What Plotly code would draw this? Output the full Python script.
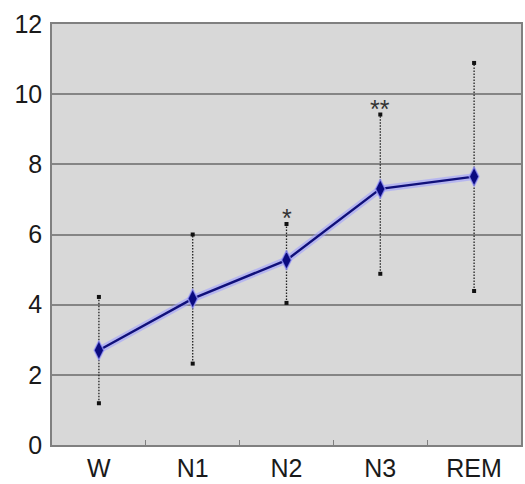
import plotly.graph_objects as go

categories = ["W", "N1", "N2", "N3", "REM"]
means = [2.70, 4.17, 5.27, 7.30, 7.65]
upper = [4.22, 6.00, 6.30, 9.42, 10.89]
lower = [1.19, 2.32, 4.05, 4.88, 4.39]
marks = ["", "", "*", "**", ""]
y_ticks = [0, 2, 4, 6, 8, 10, 12]

fig = go.Figure()

# dotted range lines with small caps
for c, lo, hi in zip(categories, lower, upper):
    fig.add_trace(go.Scatter(
        x=[c, c], y=[lo, hi], mode="lines+markers",
        line=dict(color="#222222", width=1.3, dash="1.5px,1.5px"),
        marker=dict(symbol="square", size=4, color="#111111"),
        showlegend=False, hoverinfo="skip"))

# soft glow behind the mean line
fig.add_trace(go.Scatter(
    x=categories, y=means, mode="lines",
    line=dict(color="rgba(160,160,255,0.6)", width=7),
    showlegend=False, hoverinfo="skip"))

fig.add_trace(go.Scatter(
    x=categories, y=means, mode="lines+markers",
    line=dict(color="#10107a", width=2.4),
    marker=dict(symbol="diamond-tall", size=14, color="#0a0a80",
                line=dict(color="rgba(160,160,255,0.7)", width=1.5)),
    showlegend=False))

for c, hi, m in zip(categories, upper, marks):
    if m:
        fig.add_annotation(x=c, y=hi, text=m, showarrow=False,
                           yanchor="middle", yshift=6,
                           font=dict(family="Liberation Sans, Arial", size=25, color="#333333"))

fig.update_layout(
    width=525, height=484,
    margin=dict(l=52, r=2, t=24, b=36),
    paper_bgcolor="white", plot_bgcolor="#d8d8d8",
    font=dict(family="Liberation Sans, Arial", size=25, color="#1a1a1a"),
    showlegend=False,
)
fig.update_xaxes(
    type="category", categoryorder="array", categoryarray=categories,
    range=[-0.5, 4.5], tickson="boundaries", ticks="inside", ticklen=5,
    tickcolor="#808080", showgrid=False, showline=True, linecolor="#808080",
    linewidth=1.5, mirror=True, zeroline=False,
)
fig.update_yaxes(
    range=[0, 12], tickvals=y_ticks, showgrid=True, gridcolor="#858585",
    gridwidth=1.8, showline=True, linecolor="#808080", linewidth=1.5,
    mirror=True, zeroline=False, ticks="", ticklabelstandoff=3,
)

fig.write_html("out.html", config={"displayModeBar": False},
               post_script="document.body.style.margin='0';")
